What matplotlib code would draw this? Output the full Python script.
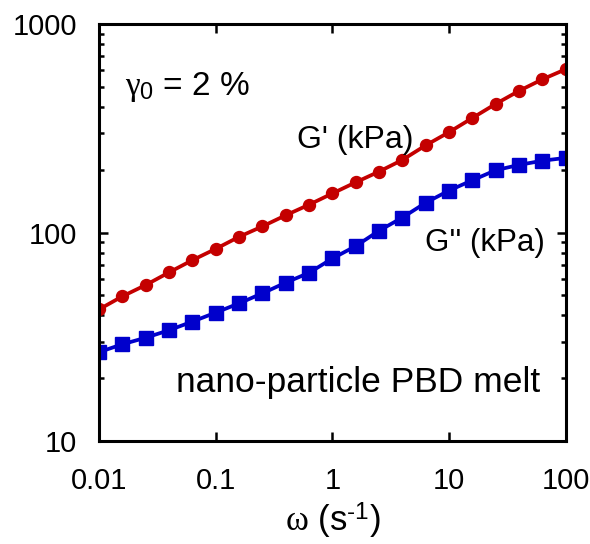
import matplotlib
matplotlib.use("Agg")
import matplotlib.pyplot as plt
from matplotlib.ticker import LogLocator, NullLocator, FixedLocator, FixedFormatter

plt.rcParams['font.family'] = ['Liberation Sans', 'DejaVu Sans']
plt.rcParams['mathtext.fontset'] = 'custom'
plt.rcParams['mathtext.rm'] = 'Liberation Sans'
plt.rcParams['mathtext.it'] = 'Liberation Serif'
plt.rcParams['mathtext.default'] = 'it'

# frequency sweep, 5 points per decade
omega = [0.01, 0.0158, 0.0251, 0.0398, 0.0631,
         0.1, 0.158, 0.251, 0.398, 0.631,
         1, 1.58, 2.51, 3.98, 6.31,
         10, 15.8, 25.1, 39.8, 63.1, 100]

# storage modulus G' (kPa)
g_storage = [42.8, 49.4, 56.0, 64.4, 73.7,
             83.5, 95.3, 107, 121, 136,
             154, 174, 196, 223, 262,
             303, 354, 414, 478, 543, 607]

# loss modulus G'' (kPa)
g_loss = [26.7, 29.1, 31.3, 34.0, 37.4,
          41.3, 45.7, 51.1, 57.5, 64.1,
          75.1, 86.0, 102, 118, 139,
          159, 178, 199, 211, 221, 228]

x_ticks = [0.01, 0.1, 1, 10, 100]
x_labels = ['0.01', '0.1', '1', '10', '100']
y_ticks = [10, 100, 1000]
y_labels = ['10', '100', '1000']

fig = plt.figure(figsize=(5.9, 5.44), dpi=100)
ax = fig.add_axes([0.168, 0.1893, 0.791, 0.7666])

ax.plot(omega, g_storage, '-o', color='#c40000', lw=2.7, ms=8.6, mec='#c40000')
ax.plot(omega, g_loss, '-s', color='#0000cc', lw=2.7, ms=9.4, mec='#0000cc')

ax.set_xscale('log')
ax.set_yscale('log')
ax.set_xlim(0.01, 100)
ax.set_ylim(10, 1000)

ax.xaxis.set_major_locator(FixedLocator(x_ticks))
ax.xaxis.set_major_formatter(FixedFormatter(x_labels))
ax.xaxis.set_minor_locator(NullLocator())
ax.yaxis.set_major_locator(FixedLocator(y_ticks))
ax.yaxis.set_major_formatter(FixedFormatter(y_labels))
ax.yaxis.set_minor_locator(LogLocator(base=10, subs=range(2, 10)))

for s in ax.spines.values():
    s.set_linewidth(2.2)

ax.tick_params(which='both', direction='in', top=True, right=True,
               width=1.8, labelsize=21)
ax.tick_params(which='major', length=6.5)
ax.tick_params(which='minor', length=3.5)
ax.tick_params(axis='x', pad=19)
ax.tick_params(axis='y', pad=16)

ax.set_xlabel(r'$\omega$ (s$^{\text{-1}}$)', fontsize=25, labelpad=4)

ax.text(0.055, 0.85, r'$\gamma_{\mathrm{0}}$ = 2 %', transform=ax.transAxes,
        fontsize=24, va='center', ha='left')
ax.text(0.549, 0.723, "G' (kPa)", transform=ax.transAxes,
        fontsize=23, va='center', ha='center')
ax.text(0.826, 0.475, "G'' (kPa)", transform=ax.transAxes,
        fontsize=22.5, va='center', ha='center')
ax.text(0.946, 0.14, 'nano-particle PBD melt', transform=ax.transAxes,
        fontsize=25.5, va='center', ha='right')

fig.savefig('out.png', dpi=100)
